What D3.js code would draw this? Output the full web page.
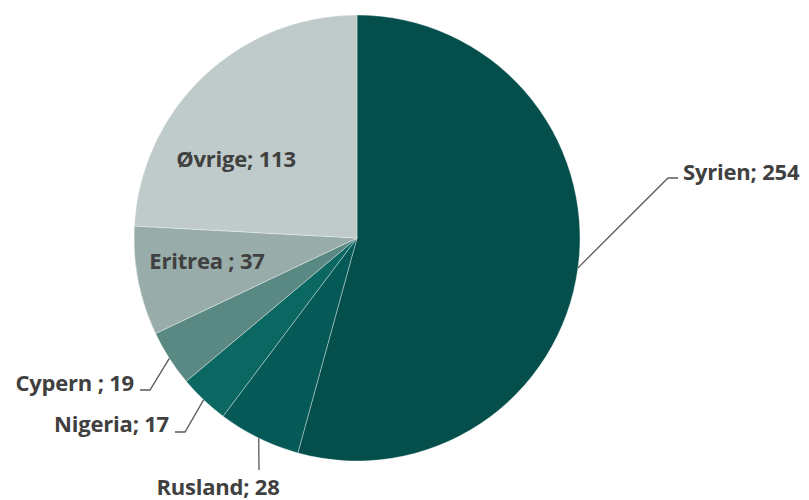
<!DOCTYPE html>
<html lang="en">
<head>
    <meta charset="UTF-8">
    <title>Pie</title>
    <script src="https://d3js.org/d3.v7.min.js"></script>
    <style>
        body { margin: 0; background: #fff; }
        .label {
            font-family: "Open Sans", sans-serif;
            font-weight: bold;
            font-size: 22px;
            letter-spacing: -0.2px;
            fill: #404040;
        }
        .leader { stroke: #595959; stroke-width: 1.3px; fill: none; }
    </style>
</head>
<body>
    <svg width="809" height="500"></svg>
    <script>
        var countries = ["Syrien", "Rusland", "Nigeria", "Cypern ", "Eritrea ", "Øvrige"];
        var counts = [254, 28, 17, 19, 37, 113];
        var colors = ["#044f4b", "#055a57", "#0a6762", "#5a8883", "#98adaa", "#bfcbca"];

        var cx = 357, cy = 238, radius = 223;

        // label placement: inside labels sit at an offset from centre,
        // outside labels get a leader line (elbow + end point) to the text
        var layout = {
            "Syrien":   {out: true, elbow: [668, 178], end: [678, 178], text: [683, 172], anchor: "start"},
            "Rusland":  {out: true, elbow: [259, 470], end: [259, 470], text: [218, 487], anchor: "middle"},
            "Nigeria":  {out: true, elbow: [185, 432], end: [175, 432], text: [169, 424], anchor: "end"},
            "Cypern ":  {out: true, elbow: [150, 390], end: [140, 390], text: [134, 383], anchor: "end"},
            "Eritrea ": {out: false, text: [207, 261], anchor: "middle"},
            "Øvrige":   {out: false, text: [236, 159], anchor: "middle"}
        };

        var data = countries.map(function(c, i) { return {name: c, value: counts[i], color: colors[i]}; });

        var svg = d3.select("svg");
        var g = svg.append("g").attr("transform", "translate(" + cx + "," + cy + ")");

        var pie = d3.pie().sort(null).value(function(d) { return d.value; });
        var arc = d3.arc().innerRadius(0).outerRadius(radius);
        var arcs = pie(data);

        g.selectAll("path.slice")
            .data(arcs)
          .enter().append("path")
            .attr("class", "slice")
            .attr("d", arc)
            .attr("fill", function(d) { return d.data.color; })
            .attr("stroke", "#ffffff")
            .attr("stroke-width", 0.6)
            .attr("stroke-opacity", 0.6);

        // leader lines
        arcs.forEach(function(a) {
            var l = layout[a.data.name];
            if (!l.out) return;
            var mid = (a.startAngle + a.endAngle) / 2;
            var px = cx + radius * Math.sin(mid), py = cy - radius * Math.cos(mid);
            svg.append("polyline")
                .attr("class", "leader")
                .attr("points", [[px, py], l.elbow, l.end].map(function(p) { return p.join(","); }).join(" "));
        });

        svg.selectAll("text.label")
            .data(arcs)
          .enter().append("text")
            .attr("class", "label")
            .attr("x", function(d) { return layout[d.data.name].text[0]; })
            .attr("y", function(d) { return layout[d.data.name].text[1]; })
            .attr("dy", "0.35em")
            .attr("text-anchor", function(d) { return layout[d.data.name].anchor; })
            .text(function(d) { return d.data.name + "; " + d.data.value; });
    </script>
</body>
</html>
